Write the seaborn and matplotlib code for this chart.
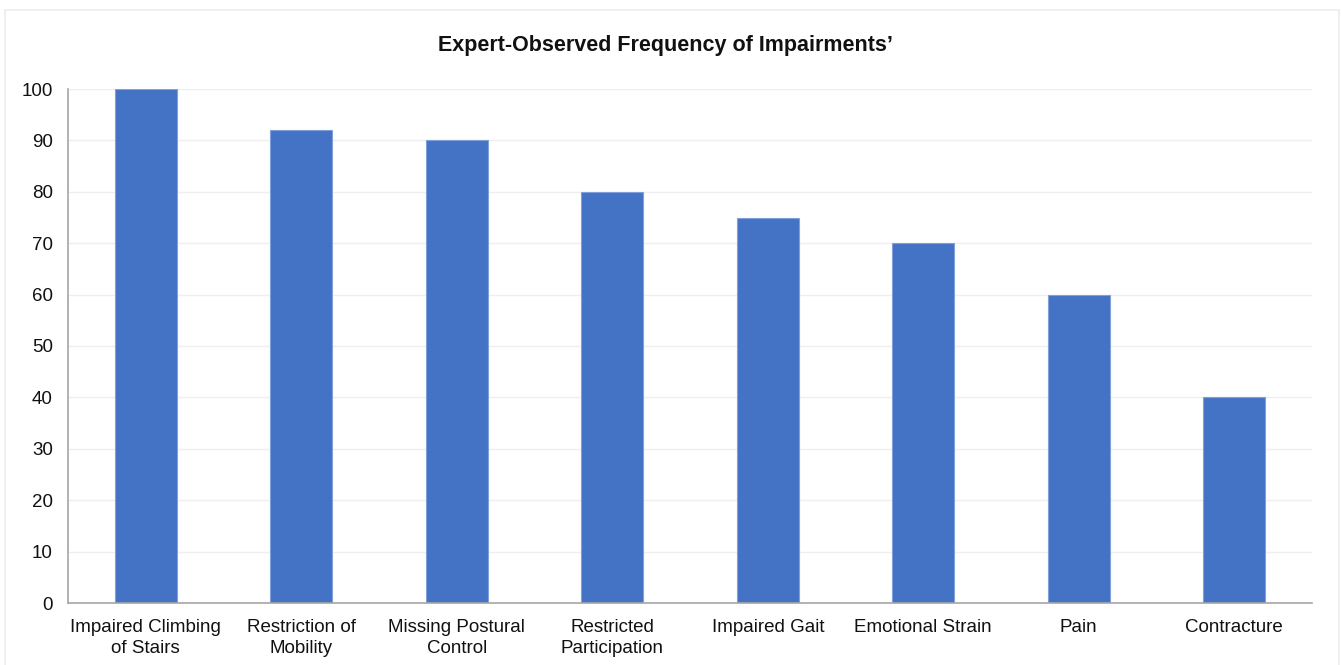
import matplotlib
matplotlib.use("Agg")
import matplotlib.pyplot as plt
from matplotlib.patches import Rectangle
import seaborn as sns
import pandas as pd
import numpy as np

categories = [
    "Impaired Climbing\nof Stairs",
    "Restriction of\nMobility",
    "Missing Postural\nControl",
    "Restricted\nParticipation",
    "Impaired Gait",
    "Emotional Strain",
    "Pain",
    "Contracture",
]
values = [100, 92, 90, 80, 75, 70, 60, 40]
y_ticks = [0, 10, 20, 30, 40, 50, 60, 70, 80, 90, 100]

df = pd.DataFrame({"impairment": categories, "frequency": values})

sns.set_style("white")
plt.rcParams["font.family"] = ["Liberation Sans", "DejaVu Sans"]

fig = plt.figure(figsize=(13.41, 6.65), dpi=100)
ax = fig.add_axes([68 / 1341, 1 - 603 / 665, (1312 - 68) / 1341, (603 - 89) / 665])

sns.barplot(data=df, x="impairment", y="frequency", color="#4472C4",
            saturation=1, width=0.4, edgecolor="#7FA0DA", linewidth=0.8, ax=ax)

ax.set_xlim(-0.5, len(categories) - 0.5)
ax.set_ylim(0, 100)
ax.set_yticks(y_ticks)
ax.set_yticklabels([str(t) for t in y_ticks], fontsize=13.5, color="#111111")
ax.yaxis.grid(True, color="#EFEFEF", linewidth=1)
ax.set_axisbelow(True)

ax.set_xticks(range(len(categories)))
ax.set_xticklabels(categories, fontsize=13.5, color="#111111", linespacing=1.28)
ax.set_xticks(np.arange(-0.5, len(categories), 1.0), minor=True)
ax.tick_params(axis="x", which="major", length=0, pad=11.5)
ax.tick_params(axis="x", which="minor", length=5, width=1, color="#A6A6A6", direction="out")
ax.tick_params(axis="y", which="major", length=5, width=1, color="#A6A6A6", direction="out", pad=6)

ax.set_xlabel("")
ax.set_ylabel("")
for side in ["top", "right"]:
    ax.spines[side].set_visible(False)
for side in ["left", "bottom"]:
    ax.spines[side].set_color("#A6A6A6")
    ax.spines[side].set_linewidth(1.2)

fig.text(665 / 1341, 1 - 46 / 665, "Expert-Observed Frequency of Impairments\u2019",
         ha="center", va="center", fontsize=15.5, fontweight="bold", color="#111111")

# light frame around the chart area
fig.patches.append(Rectangle((5 / 1341, -0.01), (1339 - 5) / 1341, 1 - 10 / 665 + 0.01,
                             transform=fig.transFigure, fill=False,
                             edgecolor="#ECECEC", linewidth=1.2))

fig.savefig("out.png", dpi=100, facecolor="white")
